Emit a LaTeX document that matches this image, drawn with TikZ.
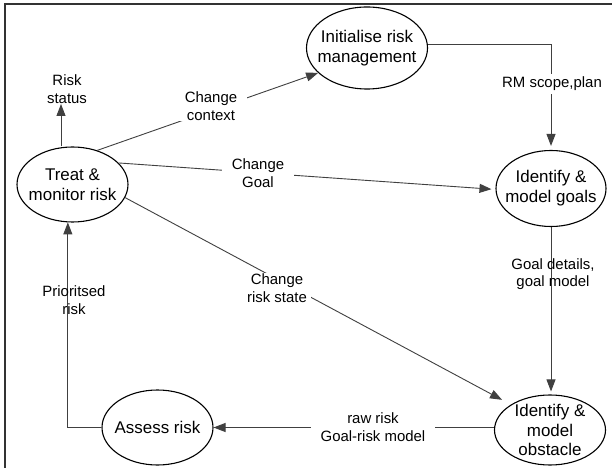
\documentclass[tikz,border=0pt]{standalone}
\usepackage{fontspec}
\setmainfont{Liberation Sans}
\usetikzlibrary{shapes.geometric,arrows.meta}
\begin{document}
\begin{tikzpicture}[x=1bp,y=-1bp,
  proc/.style={ellipse,draw=black,line width=1.1bp,inner xsep=-8bp,inner ysep=-8bp,
    align=center,font=\fontsize{17}{20}\selectfont},
  lbl/.style={align=center,font=\fontsize{15}{17.5}\selectfont,inner xsep=10bp,inner ysep=1bp},
  lblw/.style={lbl,fill=white},
  flow/.style={draw=black!75,line width=0.9bp,-{Triangle[length=12bp,width=9bp]}}]
\useasboundingbox (0,0) rectangle (612,468);
\clip (0,0) rectangle (612,468);
\fill[white] (0,0) rectangle (612,468);
\draw[black!80,line width=1.5bp] (5,4) rectangle (640,500);

% processes
\node[proc,minimum width=111bp,minimum height=75bp] (treat) at (72.5,184.5) {Treat \&\\monitor risk};
\node[proc,minimum width=121bp,minimum height=82bp] (init) at (367,48) {Initialise risk\\management};
\node[proc,minimum width=110bp,minimum height=76bp] (goals) at (551,188.5) {Identify \&\\model goals};
\node[proc,minimum width=111bp,minimum height=70bp] (obst) at (550,430) {Identify \&\\model\\obstacle};
\node[proc,minimum width=111bp,minimum height=75bp] (assess) at (157.5,427.5) {Assess risk};

\coordinate (rsTip) at (61,104);

% connectors
\draw[flow] (treat.north -| rsTip) -- (rsTip);
\draw[flow] (treat.54) -- (init.207);
\draw[flow,shorten >=4bp] (treat.25) -- (goals.181);
\draw[flow,shorten >=10bp] (treat.-14) -- (obst.147);
\draw[flow,shorten >=4bp] (init.3) -| (goals.north);
\draw[flow,shorten >=3bp] (goals.south) -- (goals.south |- obst.north);
\draw[flow] (obst.west |- assess.east) -- (assess.east);
\draw[flow] (assess.west) -| (treat.-97);

% labels
\node[lbl] (rs) at (67,89) {Risk\\status};
\node[lblw] (ctx) at (211,106) {Change\\context};
\node[lblw] (cg) at (258,173) {Change\\Goal};
\node[lblw,inner xsep=4bp] (crs) at (277,288) {Change\\risk state};
\node[lblw,inner ysep=3bp] (rm) at (552,84) {RM scope,plan};
\node[lbl] (gd) at (553,274) {Goal details,\\goal model};
\node[lblw] (rr) at (373,427) {raw risk\\Goal-risk model};
\node[lbl] (pr) at (74,300) {Prioritsed\\risk};
\end{tikzpicture}
\end{document}
